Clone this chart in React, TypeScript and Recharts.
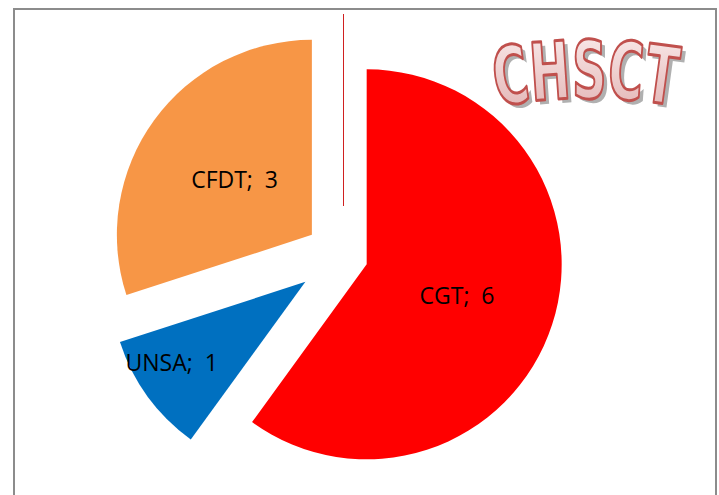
import React from "react";
import { PieChart, Pie, Cell, Sector } from "recharts";

const unions = ["CGT", "UNSA", "CFDT"];
const seats = [6, 1, 3];
const colors = ["#ff0000", "#0070c0", "#f79646"];
// how far each slice is pulled out, and where its label sits (fraction of radius, angle tweak)
const explode = [27, 44, 36];
const labelPos = [0.49, 0.8, 0.49];
const labelTilt = [-1, -5, 0];

const data = unions.map((name, i) => ({ name, value: seats[i] }));

const RAD = Math.PI / 180;

const shift = (mid: number, d: number) => ({
  dx: Math.cos(-mid * RAD) * d,
  dy: Math.sin(-mid * RAD) * d,
});

function ExplodedSector(props: any) {
  const i = unions.indexOf(props.name);
  const { dx, dy } = shift(props.midAngle, explode[i] ?? 0);
  return <Sector {...props} cx={props.cx + dx} cy={props.cy + dy} stroke="none" />;
}

function SliceLabel(props: any) {
  const i = unions.indexOf(props.name);
  const o = shift(props.midAngle, explode[i]);
  const l = shift(props.midAngle + labelTilt[i], props.outerRadius * labelPos[i]);
  return (
    <text
      x={props.cx + o.dx + l.dx}
      y={props.cy + o.dy + l.dy}
      textAnchor="middle"
      dominantBaseline="central"
      fill="#000"
      fontSize={23}
      fontFamily="'Open Sans', sans-serif"
      style={{ whiteSpace: "pre" }}
    >
      {`${props.name};  ${props.value}`}
    </text>
  );
}

// "CHSCT" word-art, set on a gentle upward arch
function WordArt() {
  const common = {
    fontSize: 80,
    fontFamily: "'DejaVu Sans', sans-serif",
    fontWeight: "bold" as const,
  };
  return (
    <svg width={210} height={100} style={{ position: "absolute", left: 488, top: 24 }}>
      <defs>
        <linearGradient id="waFill" x1="0" y1="0" x2="0" y2="1">
          <stop offset="0%" stopColor="#fbeeee" />
          <stop offset="100%" stopColor="#e0aeae" />
        </linearGradient>
        <path id="waArc" d="M 9 82 A 520 520 0 0 1 190 82" />
        <path id="waArcShadow" d="M 13 86 A 520 520 0 0 1 194 86" />
      </defs>
      <text {...common} fill="#b0b0b0">
        <textPath href="#waArcShadow" textLength={178} lengthAdjust="spacingAndGlyphs">
          CHSCT
        </textPath>
      </text>
      <text {...common} fill="url(#waFill)" stroke="#c0504d" strokeWidth={3} strokeLinejoin="round">
        <textPath href="#waArc" textLength={178} lengthAdjust="spacingAndGlyphs">
          CHSCT
        </textPath>
      </text>
    </svg>
  );
}

export default function App() {
  return (
    <div style={{ position: "absolute", left: 0, top: 0, width: 719, height: 495, overflow: "hidden", background: "#fff" }}>
      <div
        style={{
          position: "absolute",
          left: 13,
          top: 8,
          width: 700,
          height: 520,
          border: "2px solid #8c8c8c",
        }}
      />
      <div style={{ position: "absolute", left: 343, top: 14, width: 1, height: 192, background: "#d02020" }} />
      <div style={{ position: "absolute", left: 0, top: 0 }}>
        <PieChart width={719} height={495} margin={{ top: 0, right: 0, bottom: 0, left: 0 }}>
          <Pie
            data={data}
            dataKey="value"
            nameKey="name"
            cx={341}
            cy={256}
            outerRadius={195}
            startAngle={90}
            endAngle={-270}
            shape={ExplodedSector}
            label={SliceLabel}
            labelLine={false}
            isAnimationActive={false}
          >
            {data.map((d, i) => (
              <Cell key={d.name} fill={colors[i]} />
            ))}
          </Pie>
        </PieChart>
      </div>
      <WordArt />
    </div>
  );
}
